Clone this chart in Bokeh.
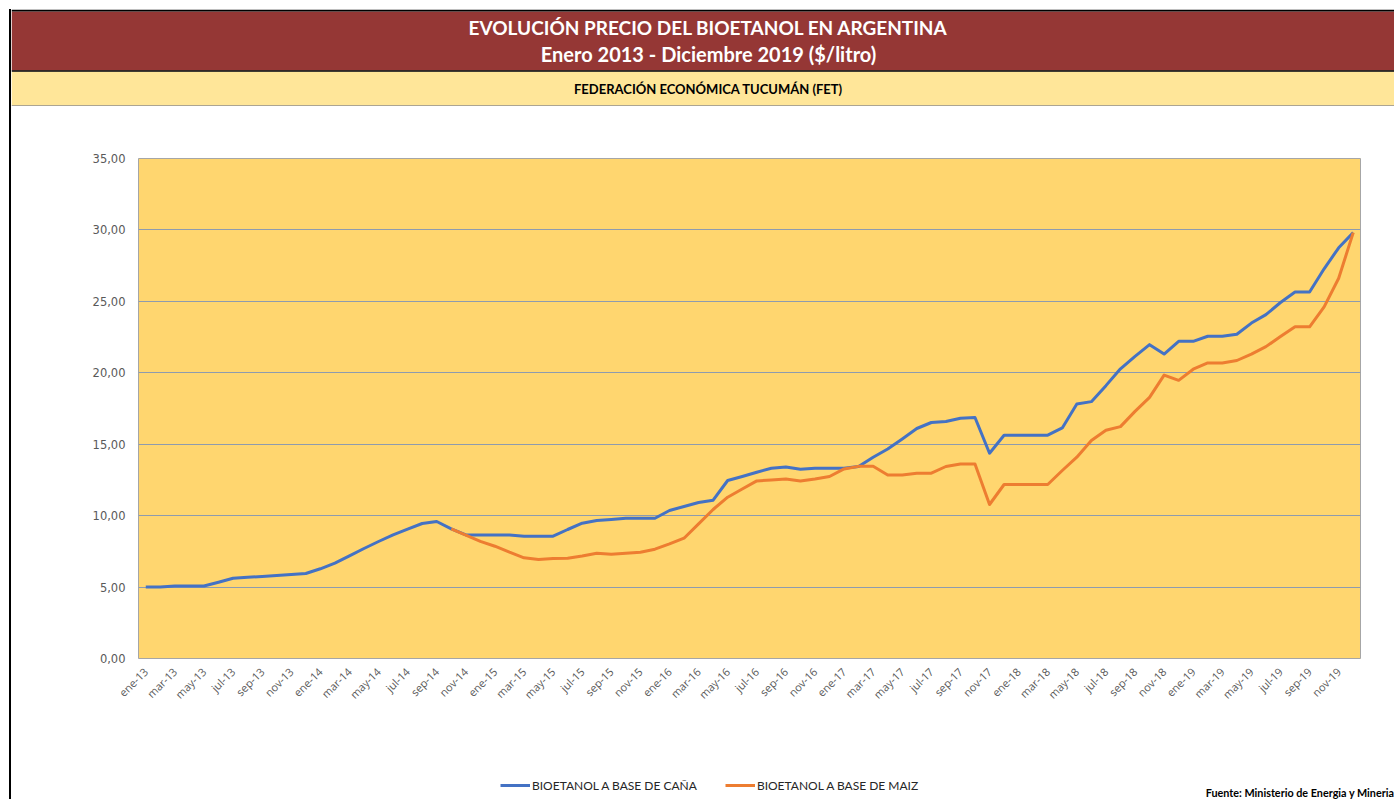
import numpy as np
from math import pi
from bokeh.plotting import figure
from bokeh.models import ColumnDataSource, Range1d, FixedTicker, Legend, LegendItem
from bokeh.layouts import column
from bokeh.embed import file_html
from bokeh.resources import INLINE
from bokeh.core.properties import value

# ---------------- data ----------------
meses = ["ene", "feb", "mar", "abr", "may", "jun", "jul", "ago", "sep", "oct", "nov", "dic"]
anios = ["13", "14", "15", "16", "17", "18", "19"]
month_labels = [f"{m}-{a}" for a in anios for m in meses]

cana = [
    5.00, 5.00, 5.08, 5.08, 5.08, 5.34, 5.62, 5.69, 5.74, 5.81, 5.88, 5.95,          # 2013
    6.28, 6.67, 7.18, 7.70, 8.19, 8.65, 9.05, 9.45, 9.59, 9.07, 8.65, 8.65,          # 2014
    8.65, 8.65, 8.56, 8.56, 8.56, 9.03, 9.47, 9.66, 9.73, 9.82, 9.82, 9.82,          # 2015
    10.36, 10.64, 10.92, 11.08, 12.46, 12.74, 13.04, 13.32, 13.41, 13.25, 13.32, 13.32,  # 2016
    13.32, 13.44, 14.09, 14.67, 15.37, 16.10, 16.52, 16.59, 16.82, 16.87, 14.37, 15.63,  # 2017
    15.63, 15.63, 15.63, 16.14, 17.82, 17.98, 19.10, 20.28, 21.15, 21.97, 21.31, 22.20,  # 2018
    22.20, 22.56, 22.56, 22.70, 23.48, 24.07, 24.92, 25.65, 25.65, 27.28, 28.75, 29.81,  # 2019
]

nan = float("nan")
maiz = [
    nan, nan, nan, nan, nan, nan, nan, nan, nan, nan, nan, nan,                      # 2013
    nan, nan, nan, nan, nan, nan, nan, nan, nan, 9.07, 8.63, 8.20,                   # 2014
    7.86, 7.44, 7.05, 6.93, 7.00, 7.02, 7.18, 7.37, 7.30, 7.37, 7.44, 7.65,          # 2015
    8.02, 8.42, 9.42, 10.43, 11.29, 11.87, 12.43, 12.50, 12.57, 12.43, 12.57, 12.74,  # 2016
    13.27, 13.45, 13.46, 12.85, 12.85, 12.97, 12.97, 13.44, 13.62, 13.62, 10.78, 12.18,  # 2017
    12.18, 12.18, 12.18, 13.16, 14.09, 15.26, 15.98, 16.23, 17.30, 18.28, 19.84, 19.47,  # 2018
    20.25, 20.69, 20.69, 20.86, 21.31, 21.83, 22.54, 23.22, 23.22, 24.61, 26.62, 29.81,  # 2019
]

y_ticks = [0, 5, 10, 15, 20, 25, 30, 35]
y_tick_labels = ["0,00", "5,00", "10,00", "15,00", "20,00", "25,00", "30,00", "35,00"]

title_1 = "EVOLUCIÓN PRECIO DEL BIOETANOL EN ARGENTINA"
title_2 = "Enero 2013 - Diciembre 2019 ($/litro)"
subtitle = "FEDERACIÓN ECONÓMICA TUCUMÁN (FET)"
source_note = "Fuente: Ministerio de Energia y Mineria"
series_names = ["BIOETANOL A BASE DE CAÑA", "BIOETANOL A BASE DE MAIZ"]

# ---------------- styles ----------------
W = 1383
HH = 97
CH = 639
FH = 54
RED = "#953735"
BAND = "#FFE699"
PLOT_BG = "#FFD66F"
BLUE = "#4472C4"
ORANGE = "#ED7D31"
GRID = "#8E9BAE"
TXT = "#595959"

# ---------------- header ----------------
hdr = figure(width=W, height=HH, x_range=Range1d(0, W), y_range=Range1d(HH, 0),
             output_backend="svg", toolbar_location=None, x_axis_type=None, y_axis_type=None,
             min_border=0, outline_line_color=None)
hdr.frame_align = False
hdr.grid.visible = False
hdr.quad(left=[0], right=[W], top=[2], bottom=[61], fill_color=RED, line_color=None)
hdr.quad(left=[0], right=[W], top=[62], bottom=[96], fill_color=BAND, line_color=None)
hdr.line(x=[0, W], y=[1, 1], line_color="black", line_width=2)
hdr.line(x=[0, W], y=[61.5, 61.5], line_color="black", line_width=1.5)
hdr.line(x=[0, W], y=[96.5, 96.5], line_color="#595959", line_width=1)
hdr.text(x=[697], y=[18], text=[title_1], text_font=value("Lato"), text_font_style="bold",
         text_font_size="19px", text_color="white", text_align="center", text_baseline="middle")
hdr.text(x=[697], y=[44], text=[title_2], text_font=value("Lato"), text_font_style="bold",
         text_font_size="20px", text_color="white", text_align="center", text_baseline="middle")
hdr.text(x=[697], y=[79], text=[subtitle], text_font=value("Lato"), text_font_style="bold",
         text_font_size="13px", text_color="black", text_align="center", text_baseline="middle")

# ---------------- chart ----------------
src = ColumnDataSource(data=dict(x=list(range(len(month_labels))), cana=cana,
                                 maiz=np.array(maiz, dtype=float)))

p = figure(width=W, height=CH, x_range=Range1d(-0.5, len(month_labels) - 0.5),
           y_range=Range1d(0, 35), output_backend="svg", toolbar_location=None,
           min_border_left=127, min_border_right=34, min_border_top=52, min_border_bottom=87,
           background_fill_color=PLOT_BG, border_fill_color="white",
           outline_line_color="#A6A6A6", outline_line_width=1)
p.frame_align = False

p.line("x", "cana", source=src, line_color=BLUE, line_width=3, line_join="round")
p.line("x", "maiz", source=src, line_color=ORANGE, line_width=3, line_join="round")

p.xgrid.visible = False
p.ygrid.grid_line_color = GRID
p.ygrid.grid_line_width = 1

p.yaxis.ticker = FixedTicker(ticks=y_ticks)
p.yaxis.major_label_overrides = {t: l for t, l in zip(y_ticks, y_tick_labels)}
p.yaxis.axis_line_color = None
p.yaxis.major_tick_line_color = None
p.yaxis.minor_tick_line_color = None
p.yaxis.major_tick_out = 0
p.yaxis.major_tick_in = 0
p.yaxis.major_label_standoff = 13
p.yaxis.major_label_text_font = "DejaVu Sans"
p.yaxis.major_label_text_font_size = "11.5px"
p.yaxis.major_label_text_color = TXT

x_ticks = list(range(0, len(month_labels), 2))
p.xaxis.ticker = FixedTicker(ticks=x_ticks)
p.xaxis.major_label_overrides = {i: month_labels[i] for i in x_ticks}
p.xaxis.major_label_orientation = pi / 4
p.xaxis.axis_line_color = None
p.xaxis.major_tick_line_color = None
p.xaxis.minor_tick_line_color = None
p.xaxis.major_tick_out = 0
p.xaxis.major_tick_in = 0
p.xaxis.major_label_standoff = 11
p.xaxis.major_label_text_font = "Open Sans"
p.xaxis.major_label_text_font_size = "11px"
p.xaxis.major_label_text_color = TXT

# ---------------- footer (legend + source) ----------------
ftr = figure(width=W, height=FH, x_range=Range1d(0, W), y_range=Range1d(FH, 0),
             output_backend="svg", toolbar_location=None, x_axis_type=None, y_axis_type=None,
             min_border=0, outline_line_color=None)
ftr.frame_align = False
ftr.grid.visible = False
# legend proxies (no visible data)
k1 = ftr.line(x=[nan], y=[nan], line_color=BLUE, line_width=3)
k2 = ftr.line(x=[nan], y=[nan], line_color=ORANGE, line_width=3)
legend = Legend(items=[LegendItem(label=series_names[0], renderers=[k1]),
                       LegendItem(label=series_names[1], renderers=[k2])],
                orientation="horizontal", location=(489, 4),
                glyph_width=30, glyph_height=20, label_height=20, label_standoff=2, spacing=28,
                padding=0, margin=0, border_line_color=None, background_fill_alpha=0,
                label_text_font="Lato", label_text_font_size="12px", label_text_color="#262626")
ftr.add_layout(legend, "center")
ftr.text(x=[1383], y=[47], text=[source_note], text_font=value("Lato"), text_font_style="bold",
         text_font_size="10.8px", text_color="black", text_align="right", text_baseline="middle")

layout = column(hdr, p, ftr, spacing=0, margin=(9, 0, 0, 9),
                styles={"border-left": "2px solid black"})

open("out.html", "w").write(file_html(layout, INLINE))
